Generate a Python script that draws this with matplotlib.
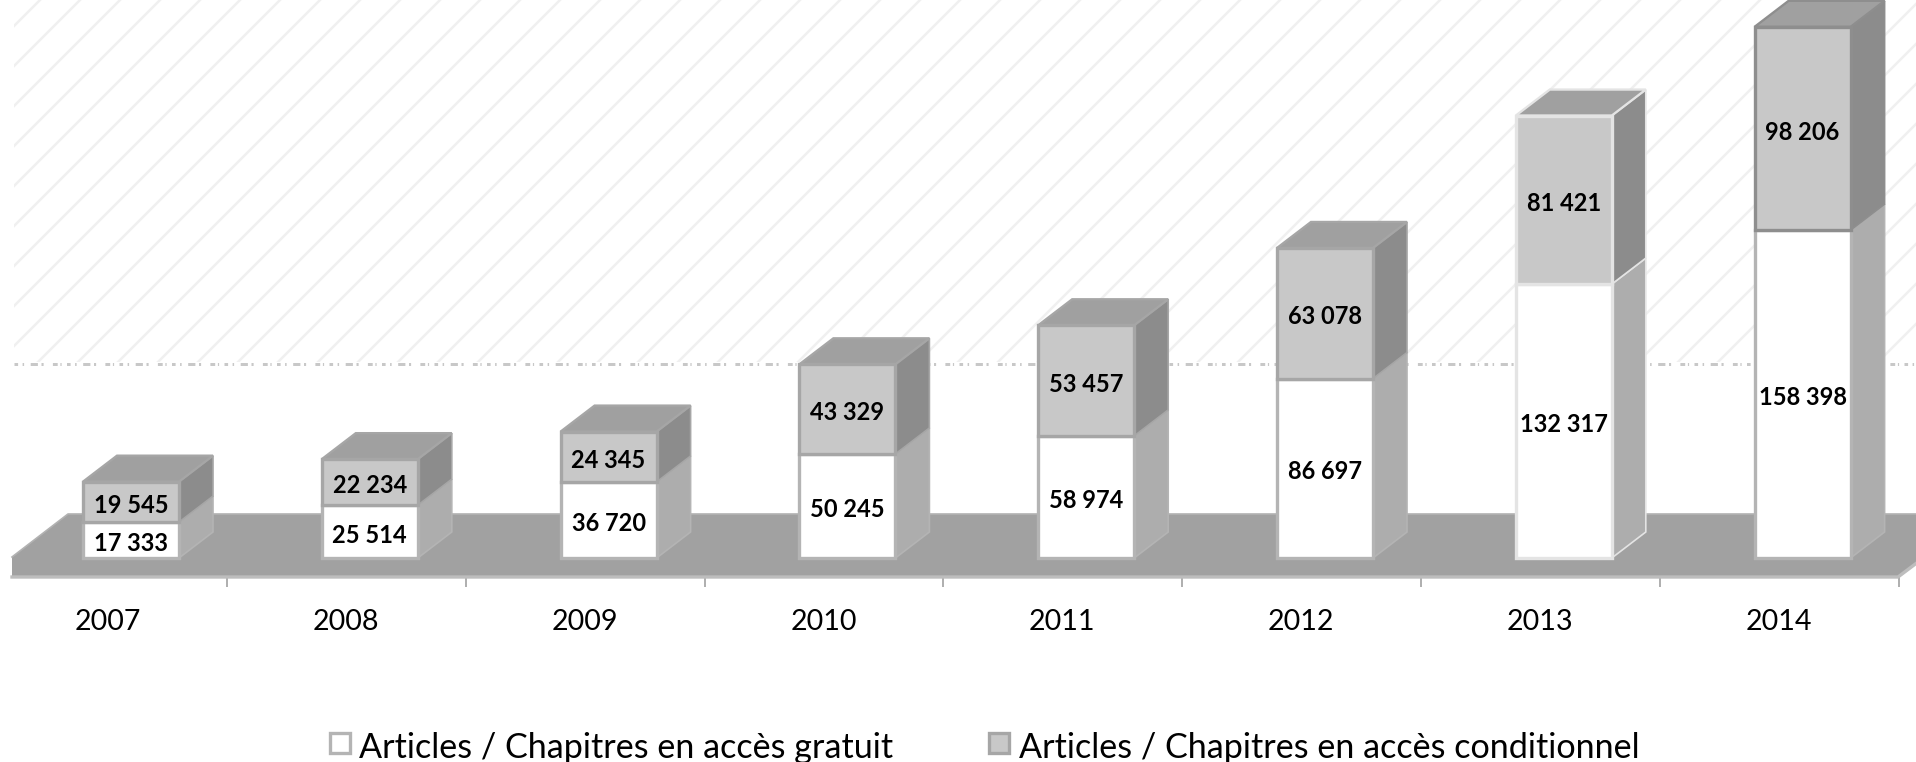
import matplotlib
matplotlib.use('Agg')
import matplotlib.pyplot as plt
from matplotlib.patches import Polygon, Rectangle

plt.rcParams['font.family'] = ['Lato', 'DejaVu Sans']
plt.rcParams['hatch.linewidth'] = 1.5

years = ['2007', '2008', '2009', '2010', '2011', '2012', '2013', '2014']
free_access = [17333, 25514, 36720, 50245, 58974, 86697, 132317, 158398]
paid_access = [19545, 22234, 24345, 43329, 53457, 63078, 81421, 98206]
legend_labels = ['Articles / Chapitres en accès gratuit', 'Articles / Chapitres en accès conditionnel']

W = 1916
H = 762
# pixels for one category and for one article
px_x = 238.8
px_y = 0.00207
base_px = 558
first_px = 131

def fmt(v):
  return f'{v:,}'.replace(',', ' ')

def box(ax, i, y0, y1, face, side, edge, top=None):
  hw = 48 / px_x
  dx = 34 / px_x
  dy = 26 / px_y
  ax.add_patch(Polygon([(i + hw, y0), (i + hw + dx, y0 + dy), (i + hw + dx, y1 + dy), (i + hw, y1)],
                       fc=side, ec=edge, lw=1.0, zorder=3))
  if top:
    ax.add_patch(Polygon([(i - hw, y1), (i - hw + dx, y1 + dy), (i + hw + dx, y1 + dy), (i + hw, y1)],
                         fc=top, ec=edge, lw=1.4, zorder=3))
  ax.add_patch(Rectangle((i - hw, y0), 2 * hw, y1 - y0, fc=face, ec=edge, lw=2.0, zorder=4))

fig = plt.figure(figsize=(W / 120, H / 120), dpi=120)
ax = fig.add_axes([0, 0, 1, 1])
ax.set_xlim(-first_px / px_x, (W - first_px) / px_x)
ax.set_ylim(-(H - base_px) / px_y, base_px / px_y)
ax.axis('off')

def X(px):
  return (px - first_px) / px_x

def Y(px):
  return (base_px - px) / px_y

# hatched back wall
ax.add_patch(Rectangle((X(14), Y(362)), X(W + 10) - X(14), Y(-10) - Y(362),
                       fc='white', ec='#f0f0f0', lw=0, hatch='/', zorder=1))
ax.add_patch(Rectangle((X(0), Y(372)), X(W + 10) - X(0), Y(362) - Y(372), fc='white', ec='none', zorder=1.2))
ax.plot([X(14), X(W)], [Y(364), Y(364)], color='#c8c8c8', lw=1.8,
        ls=(0, (1.2, 1.5, 0.5, 2.2, 2.4, 1.2, 0.7, 3.1, 1.6, 0.9, 0.4, 1.8)), zorder=1.5)

# floor
ax.add_patch(Polygon([(X(12), Y(557)), (X(68), Y(514)), (X(W + 10), Y(514)), (X(W + 10), Y(556)),
                      (X(1898), Y(577)), (X(12), Y(577))], fc='#a1a1a1', ec='none', zorder=2))
ax.plot([X(12), X(1898), X(W + 10)], [Y(577), Y(577), Y(556)], color='#bdbdbd', lw=2.0, zorder=2.2)
ax.plot([X(12), X(68), X(W + 10)], [Y(557), Y(514), Y(514)], color='#b2b2b2', lw=1, zorder=2.2)

# ticks and category labels
for i in range(8):
  ax.plot([X(227 + i * 238.8)] * 2, [Y(578), Y(586)], color='#b0b0b0', lw=1.2)
  ax.text(X(107.5 + i * 238.7), Y(619), years[i], ha='center', va='center_baseline', fontsize=17.2, color='black')

for i in range(8):
  top_y = free_access[i] + paid_access[i]
  edge = '#e4e4e4' if i == 6 else '#b4b4b4'
  edge2 = '#e4e4e4' if i == 6 else ('#8e8e8e' if i == 7 else '#a6a6a6')
  box(ax, i, 0, free_access[i], 'white', '#adadad', edge)
  box(ax, i, free_access[i], top_y, '#c8c8c8', '#8c8c8c', edge2, top='#a0a0a0')
  ax.annotate(fmt(free_access[i]), (i, free_access[i] / 2), xytext=(0, -1), textcoords='offset points',
              ha='center', va='center_baseline', fontsize=14.2, fontweight='bold', color='black', zorder=6)
  ax.annotate(fmt(paid_access[i]), (i, free_access[i] + paid_access[i] / 2), xytext=(0, -1), textcoords='offset points',
              ha='center', va='center_baseline', fontsize=14.2, fontweight='bold', color='black', zorder=6)

# legend
ax.add_patch(Rectangle((X(330), Y(753)), 20 / px_x, 20 / px_y, fc='white', ec='#b4b4b4', lw=2.0))
ax.text(X(359), Y(745), legend_labels[0], va='center_baseline', ha='left', fontsize=20.5, color='black')
ax.add_patch(Rectangle((X(989), Y(753)), 20 / px_x, 20 / px_y, fc='#c8c8c8', ec='#a6a6a6', lw=2.0))
ax.text(X(1019), Y(745), legend_labels[1], va='center_baseline', ha='left', fontsize=20.5, color='black')

fig.savefig('out.png', dpi=120)
